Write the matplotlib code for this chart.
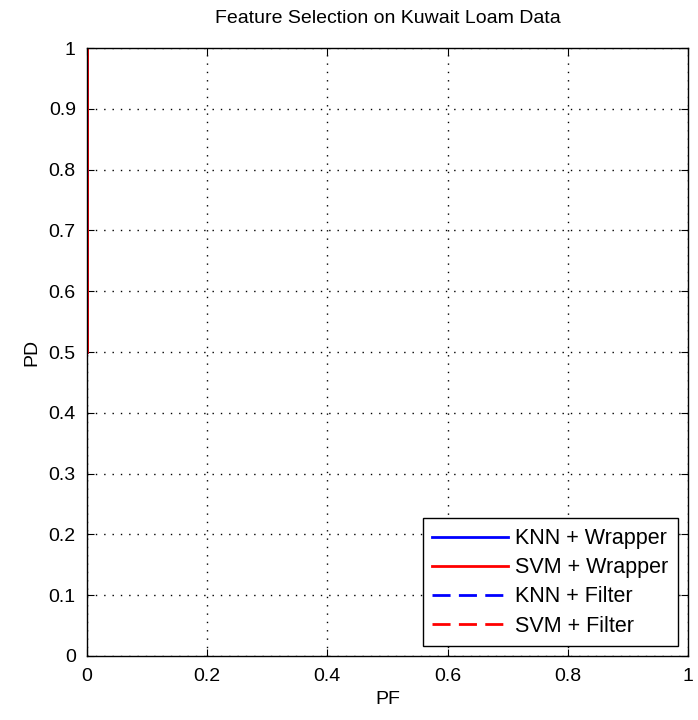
import matplotlib
matplotlib.use("Agg")
import matplotlib.pyplot as plt

plt.rcParams['font.family'] = ['Liberation Sans', 'DejaVu Sans']

# ---------- Data (ROC points) ----------
knn_wrap_pf = [0, 0]
knn_wrap_pd = [0.5, 1]
svm_wrap_pf = [0, 0]
svm_wrap_pd = [0.5, 1]
knn_filt_pf = [0, 0]
knn_filt_pd = [0.5, 1]
svm_filt_pf = [0, 0]
svm_filt_pd = [0.5, 1]

xticks = [0, 0.2, 0.4, 0.6, 0.8, 1]
xtick_labels = ['0', '0.2', '0.4', '0.6', '0.8', '1']
yticks = [0, 0.1, 0.2, 0.3, 0.4, 0.5, 0.6, 0.7, 0.8, 0.9, 1]
ytick_labels = ['0', '0.1', '0.2', '0.3', '0.4', '0.5', '0.6', '0.7', '0.8', '0.9', '1']

fig = plt.figure(figsize=(6.98, 7.2), dpi=100)
ax = fig.add_axes([0.1246, 0.0889, 0.861, 0.8444])

dash = (0, (6.5, 3))
ax.plot(knn_wrap_pf, knn_wrap_pd, color='blue', lw=2, label='KNN + Wrapper')
ax.plot(knn_filt_pf, knn_filt_pd, color='blue', lw=2, ls=dash, label='KNN + Filter')
ax.plot(svm_filt_pf, svm_filt_pd, color='red', lw=2, ls=dash, label='SVM + Filter')
ax.plot(svm_wrap_pf, svm_wrap_pd, color='red', lw=2, label='SVM + Wrapper')

ax.set_xlim(0, 1)
ax.set_ylim(0, 1)
ax.set_xticks(xticks)
ax.set_xticklabels(xtick_labels)
ax.set_yticks(yticks)
ax.set_yticklabels(ytick_labels)
ax.tick_params(direction='in', labelsize=14, length=5, top=True, right=True)
ax.tick_params(axis='x', pad=9)
ax.tick_params(axis='y', pad=8)
ax.grid(True, color='black', ls=(0, (1, 5)), lw=1)
for s in ax.spines.values():
    s.set_linewidth(1)

ax.set_xlabel('PF', fontsize=14, labelpad=4)
ax.set_ylabel('PD', fontsize=14, labelpad=6)
ax.set_title('Feature Selection on Kuwait Loam Data', fontsize=14, pad=18)

h, l = ax.get_legend_handles_labels()
order = [0, 3, 1, 2]
ax.legend([h[i] for i in order], [l[i] for i in order], loc='lower right',
          fontsize=15.5, handlelength=3.5, handletextpad=0.35, labelspacing=0.38,
          borderpad=0.45, fancybox=False, edgecolor='black', framealpha=1,
          borderaxespad=0.45)

plt.savefig("out.png", dpi=100)
